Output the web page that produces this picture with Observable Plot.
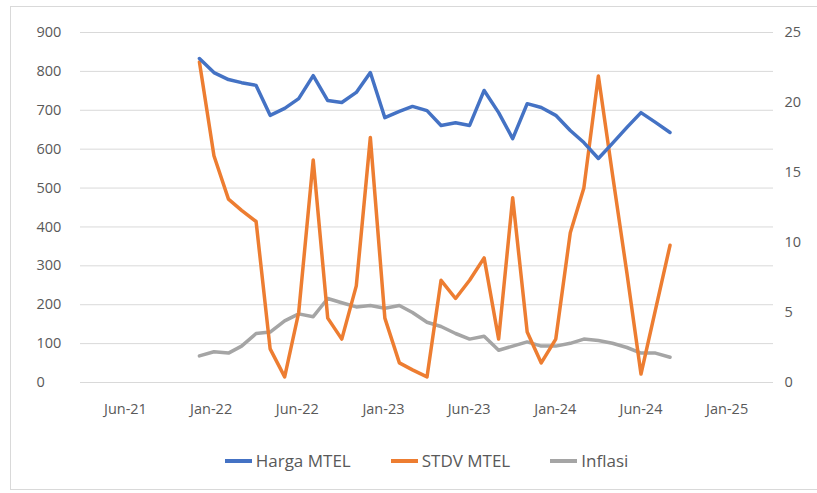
<!DOCTYPE html>
<html>
<head>
<meta charset="utf-8">
<script src="https://cdn.jsdelivr.net/npm/d3@7"></script>
<script src="https://cdn.jsdelivr.net/npm/@observablehq/plot@0.6"></script>
<style>
  body { margin: 0; background: #fff; font-family: "Open Sans", "Noto Sans", sans-serif; }
  #frame { position: absolute; left: 10px; top: 6px; width: 830px; height: 484px; border: 1px solid #d9d9d9; box-sizing: border-box; }
  #chart { position: absolute; left: 0; top: 0; }
  #legend { position: absolute; left: 18px; top: 449px; width: 817px; display: flex; justify-content: center; align-items: center; font-size: 17px; color: #595959; }
  .item { display: flex; align-items: center; margin: 0 20px; }
  .sw { width: 27px; height: 4px; margin-right: 4px; }
</style>
</head>
<body>
<div id="frame"></div>
<div id="chart"></div>
<div id="legend"></div>
<script>
// Monthly observations, Dec 2021 .. Sep 2024
const months = ["2021-12","2022-01","2022-02","2022-03","2022-04","2022-05","2022-06","2022-07","2022-08","2022-09","2022-10","2022-11","2022-12",
  "2023-01","2023-02","2023-03","2023-04","2023-05","2023-06","2023-07","2023-08","2023-09","2023-10","2023-11","2023-12",
  "2024-01","2024-02","2024-03","2024-04","2024-05","2024-06","2024-07","2024-08","2024-09"];
// Harga MTEL (left axis)
const harga = [833, 797, 779, 771, 764, 687, 705, 730, 789, 725, 720, 746, 797,
  681, 697, 710, 699, 661, 668, 661, 751, 694, 627, 717, 707,
  687, 648, 617, 576, 615, 656, 694, 669, 643];
// STDV MTEL (right axis)
const stdv = [22.9, 16.2, 13.1, 12.3, 11.5, 2.4, 0.4, 5.0, 15.9, 4.6, 3.1, 6.9, 17.5,
  4.6, 1.4, 0.9, 0.4, 7.3, 6.0, 7.3, 8.9, 3.1, 13.2, 3.6, 1.4,
  3.1, 10.7, 13.9, 21.9, 14.9, 7.8, 0.6, 5.2, 9.8];
// Inflasi (right axis)
const inflasi = [1.9, 2.2, 2.1, 2.6, 3.5, 3.6, 4.4, 4.9, 4.7, 6.0, 5.7, 5.4, 5.5,
  5.3, 5.5, 5.0, 4.3, 4.0, 3.5, 3.1, 3.3, 2.3, 2.6, 2.9, 2.6,
  2.6, 2.8, 3.1, 3.0, 2.8, 2.5, 2.1, 2.1, 1.8];

const leftTicks = [0, 100, 200, 300, 400, 500, 600, 700, 800, 900];
const rightTicks = [0, 5, 10, 15, 20, 25];
const xTickDates = ["2021-06-26","2021-12-26","2022-06-28","2022-12-29","2023-06-30","2023-12-31","2024-07-01","2025-01-01"];
const xTickLabels = ["Jun-21","Jan-22","Jun-22","Jan-23","Jun-23","Jan-24","Jun-24","Jan-25"];

const seriesNames = ["Harga MTEL", "STDV MTEL", "Inflasi"];
const colors = ["#4472c4", "#ed7d31", "#a5a5a5"];

const leftMax = 900, rightMax = 25, k = leftMax / rightMax;
const dates = months.map(m => new Date(m + "-01T00:00:00Z"));
const rows = (vals, scale) => vals.map((v, i) => ({date: dates[i], v: v * scale}));
const tickDates = xTickDates.map(s => new Date(s + "T00:00:00Z"));
const labelMap = new Map(tickDates.map((d, i) => [+d, xTickLabels[i]]));

const chart = Plot.plot({
  width: 817,
  height: 440,
  marginLeft: 80,
  marginRight: 44,
  marginTop: 32,
  marginBottom: 58,
  style: {fontFamily: "'Open Sans', 'Noto Sans', sans-serif", fontSize: "14.5px", color: "#595959", background: "transparent"},
  x: {type: "utc", domain: [new Date("2021-03-22T00:00:00Z"), new Date("2025-04-10T00:00:00Z")]},
  y: {domain: [0, leftMax]},
  marks: [
    Plot.gridY(leftTicks, {stroke: "#d9d9d9", strokeOpacity: 1, strokeWidth: 1}),
    Plot.axisY(leftTicks, {anchor: "left", tickSize: 0, tickPadding: 44, textAnchor: "start", fill: "#595959", label: null}),
    Plot.axisY(rightTicks.map(d => d * k), {anchor: "right", tickSize: 0, tickPadding: 11, tickFormat: d => Math.round(d / k), fill: "#595959", label: null}),
    Plot.axisX(tickDates, {anchor: "bottom", tickSize: 0, tickPadding: 21, tickFormat: d => labelMap.get(+d), fill: "#595959", label: null}),
    Plot.line(rows(inflasi, k), {x: "date", y: "v", stroke: colors[2], strokeWidth: 3.5, strokeLinejoin: "round"}),
    Plot.line(rows(stdv, k), {x: "date", y: "v", stroke: colors[1], strokeWidth: 3.5, strokeLinejoin: "round"}),
    Plot.line(rows(harga, 1), {x: "date", y: "v", stroke: colors[0], strokeWidth: 3.5, strokeLinejoin: "round"})
  ]
});
document.getElementById("chart").appendChild(chart);

const legend = document.getElementById("legend");
seriesNames.forEach((name, i) => {
  const item = document.createElement("div");
  item.className = "item";
  const sw = document.createElement("div");
  sw.className = "sw";
  sw.style.background = colors[i];
  const t = document.createElement("span");
  t.textContent = name;
  item.appendChild(sw);
  item.appendChild(t);
  legend.appendChild(item);
});
</script>
</body>
</html>
